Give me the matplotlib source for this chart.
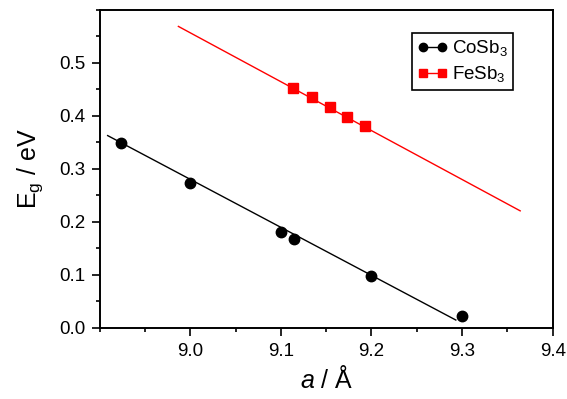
import numpy as np
import matplotlib
matplotlib.use("Agg")
import matplotlib.pyplot as plt
from matplotlib.ticker import MultipleLocator

plt.rcParams['font.family'] = ['Liberation Sans', 'DejaVu Sans']
plt.rcParams['mathtext.fontset'] = 'custom'
plt.rcParams['mathtext.rm'] = 'Liberation Sans'
plt.rcParams['mathtext.it'] = 'Liberation Sans:italic'

# CoSb3 data points and fitted line
co_a = [8.924, 9.0, 9.1, 9.114, 9.2, 9.3]
co_eg = [0.349, 0.274, 0.181, 0.168, 0.098, 0.023]
co_fit_a = [8.909, 9.293]
co_fit_eg = [0.363, 0.015]

# FeSb3 data points and fitted line
fe_a = [9.113, 9.134, 9.154, 9.173, 9.193]
fe_eg = [0.452, 0.435, 0.416, 0.399, 0.381]
fe_fit_a = [8.987, 9.364]
fe_fit_eg = [0.569, 0.221]

fig = plt.figure(figsize=(5.67, 3.99), dpi=100)
ax = fig.add_axes([0.1755, 0.178, 0.7995, 0.797])

ax.plot(co_fit_a, co_fit_eg, color='black', lw=1.0)
ax.plot(fe_fit_a, fe_fit_eg, color='red', lw=1.0)
ax.plot(co_a, co_eg, 'o', color='black', ms=7.5)
ax.plot(fe_a, fe_eg, 's', color='red', ms=6.5)

# legend proxies: marker-line-marker
ax.plot([], [], 'o-', color='black', ms=6, lw=1.0, label='CoSb$_3$')
ax.plot([], [], 's-', color='red', ms=5.5, lw=1.0, label='FeSb$_3$')

ax.set_xlim(8.9, 9.4)
ax.set_ylim(0.0, 0.6)
ax.xaxis.set_minor_locator(MultipleLocator(0.05))
ax.yaxis.set_minor_locator(MultipleLocator(0.05))
ax.set_xticks([9.0, 9.1, 9.2, 9.3, 9.4])
ax.set_xticklabels(['9.0', '9.1', '9.2', '9.3', '9.4'])
ax.set_yticks([0.0, 0.1, 0.2, 0.3, 0.4, 0.5])
ax.set_yticklabels(['0.0', '0.1', '0.2', '0.3', '0.4', '0.5'])

ax.tick_params(which='major', direction='out', length=6, width=1.2, labelsize=13.5)
ax.tick_params(which='minor', direction='out', length=3, width=1.2)
ax.tick_params(axis='x', which='major', pad=5)
ax.tick_params(axis='y', which='major', pad=4)
for s in ax.spines.values():
    s.set_linewidth(1.4)

ax.set_xlabel('$\\it{a}$ / Å', fontsize=18, labelpad=4)
ax.set_ylabel('E$_\\mathregular{g}$ / eV', fontsize=18, labelpad=10)

leg = ax.legend(loc='upper right', bbox_to_anchor=(0.912, 0.928), fontsize=13.5,
                numpoints=2, handlelength=1.6, handletextpad=0.2,
                borderpad=0.3, labelspacing=0.3, borderaxespad=0,
                fancybox=False, edgecolor='black', framealpha=1)
leg.get_frame().set_linewidth(1.2)

fig.savefig('out.png', dpi=100)
